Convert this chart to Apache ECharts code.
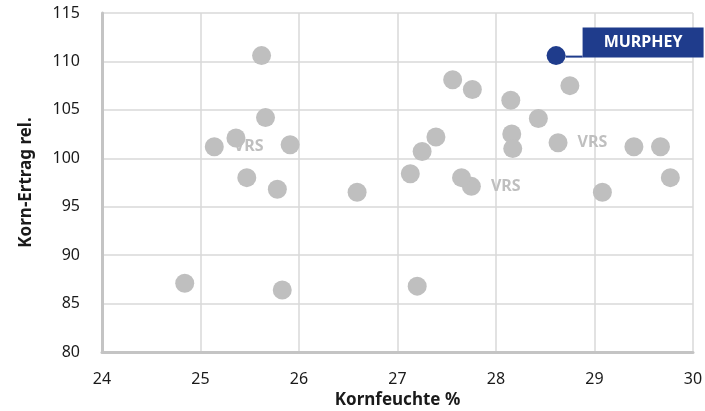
<!DOCTYPE html>
<html>
<head>
<meta charset="utf-8">
<script src="https://cdn.jsdelivr.net/npm/echarts@6/dist/echarts.min.js"></script>
<style>html,body{margin:0;padding:0;background:#fff}#c{width:705px;height:411px}</style>
</head>
<body>
<div id="c"></div>
<script>
// Data
const grayX = [24.84, 25.36, 25.47, 25.62, 25.66, 25.78, 25.91, 25.83, 26.59, 27.13, 27.25, 27.39, 27.20, 27.56, 27.76, 27.65, 28.15, 28.43, 28.16, 28.17, 28.75, 29.40, 29.67, 29.77, 29.08];
const grayY = [87.1, 102.1, 98.0, 110.6, 104.2, 96.8, 101.4, 86.4, 96.5, 98.4, 100.7, 102.2, 86.8, 108.1, 107.1, 98.0, 106.0, 104.1, 102.5, 101.0, 107.5, 101.2, 101.2, 98.0, 96.5];
const vrsX = [25.14, 27.75, 28.63];
const vrsY = [101.2, 97.1, 101.6];
const vrsLabel = "VRS";
const murpheyX = [28.61];
const murpheyY = [110.6];
const murpheyLabel = "MURPHEY";
const xTicks = [24, 25, 26, 27, 28, 29, 30];
const yTicks = [80, 85, 90, 95, 100, 105, 110, 115];
const xName = "Kornfeuchte %";
const yName = "Korn-Ertrag rel.";

const pairs = (xs, ys) => xs.map((x, i) => [x, ys[i]]);
const FONT = "Noto Sans";
const BLUE = "#1f3c8c";
const GRAY = "#bfbfbf";

const chart = echarts.init(document.getElementById('c'));
chart.setOption({
  animation: false,
  textStyle: { fontFamily: FONT },
  grid: { left: 102, right: 12, top: 13, bottom: 59, containLabel: false, outerBoundsMode: 'none' },
  xAxis: {
    type: 'value', min: xTicks[0], max: xTicks[xTicks.length - 1], interval: 1,
    name: xName, nameLocation: 'middle', nameGap: 37,
    nameTextStyle: { fontFamily: FONT, fontSize: 17, fontWeight: 'bold', color: '#1a1a1a' },
    axisLine: { show: true, lineStyle: { color: '#c4c4c4', width: 3 } },
    axisTick: { show: false },
    axisLabel: { fontFamily: FONT, fontSize: 16, color: '#1a1a1a', margin: 19 },
    splitLine: { show: true, lineStyle: { color: '#d9d9d9', width: 1.5 } }
  },
  yAxis: {
    type: 'value', min: yTicks[0], max: yTicks[yTicks.length - 1], interval: 5,
    name: yName, nameLocation: 'middle', nameGap: 67, nameRotate: 90,
    nameTextStyle: { fontFamily: FONT, fontSize: 17, fontWeight: 'bold', color: '#1a1a1a' },
    axisLine: { show: true, lineStyle: { color: '#c4c4c4', width: 3 } },
    axisTick: { show: false },
    axisLabel: { fontFamily: FONT, fontSize: 16, color: '#1a1a1a', margin: 22 },
    splitLine: { show: true, lineStyle: { color: '#d9d9d9', width: 1.5 } }
  },
  series: [
    {
      type: 'scatter', symbolSize: 19, z: 3,
      itemStyle: { color: GRAY, opacity: 1 },
      label: {
        show: true, position: 'right', distance: 10,
        formatter: () => vrsLabel,
        fontFamily: FONT, fontSize: 16, fontWeight: 'bold', color: GRAY
      },
      data: pairs(vrsX, vrsY)
    },
    {
      type: 'scatter', symbolSize: 19, z: 4,
      itemStyle: { color: GRAY, opacity: 1 },
      data: pairs(grayX, grayY)
    },
    {
      type: 'scatter', symbolSize: 19, z: 5,
      itemStyle: { color: BLUE, opacity: 1 },
      label: {
        show: true, position: 'right', distance: 0, offset: [0, -13],
        formatter: () => '{l|}{b|' + murpheyLabel + '}',
        rich: {
          l: { width: 17, height: 2, backgroundColor: BLUE, verticalAlign: 'bottom' },
          b: { width: 121, height: 30, lineHeight: 30, align: 'center', backgroundColor: BLUE,
               color: '#fff', fontFamily: FONT, fontSize: 16, fontWeight: 'bold' }
        }
      },
      data: pairs(murpheyX, murpheyY)
    }
  ]
});
</script>
</body>
</html>
